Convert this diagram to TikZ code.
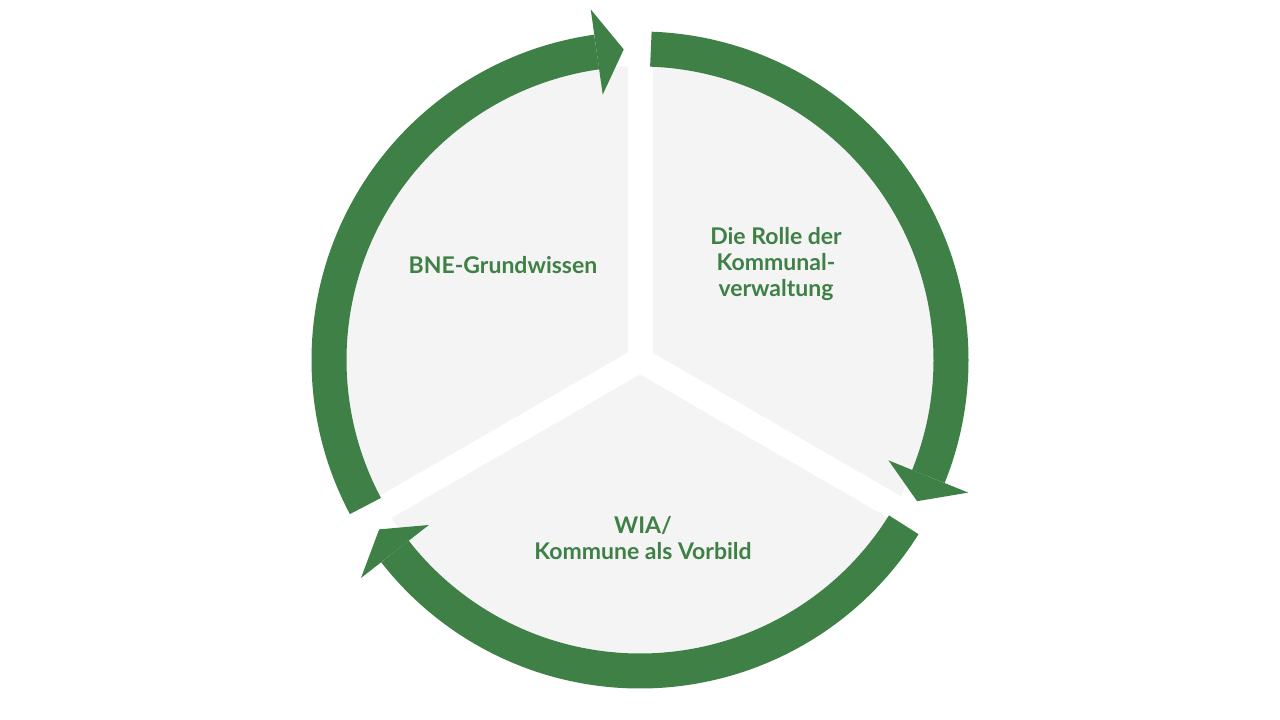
\documentclass[tikz,border=0pt]{standalone}
\usepackage{fontspec}
\usetikzlibrary{calc}
\setmainfont{Lato}
\definecolor{grn}{HTML}{3E8045}
\definecolor{pie}{HTML}{F4F4F4}
\begin{document}
\begin{tikzpicture}[x=1pt,y=1pt,
  ring/.style={line width=35pt,grn},
  head/.style={fill=grn,draw=none},
  lbl/.style={text=grn,font=\bfseries\fontsize{23}{26}\selectfont,align=center}]
\useasboundingbox[fill=white] (0,0) rectangle (1280,720);
\coordinate (c) at (640,360);
\fill[pie] (c) circle (294);
\foreach \a in {90,-30,210}{\draw[white,line width=25pt] (c) -- ++(\a:300);}
\foreach \s in {88,-32,-152}{
  \draw[ring] (c) ++(\s:311) arc[start angle=\s,end angle=\s-110,radius=311];
  \fill[head] ($(c)+(\s-110:268)$) -- ($(c)+(\s-110:354)$) -- ($(c)+(\s-115:311)$) -- cycle;
}
\node[lbl] (a) at (503,455) {BNE-Grundwissen};
\node[lbl] (b) at (776,456) {Die Rolle der\\Kommunal-\\verwaltung};
\node[lbl] (d) at (643,182) {WIA/\\Kommune als Vorbild};
\end{tikzpicture}
\end{document}
